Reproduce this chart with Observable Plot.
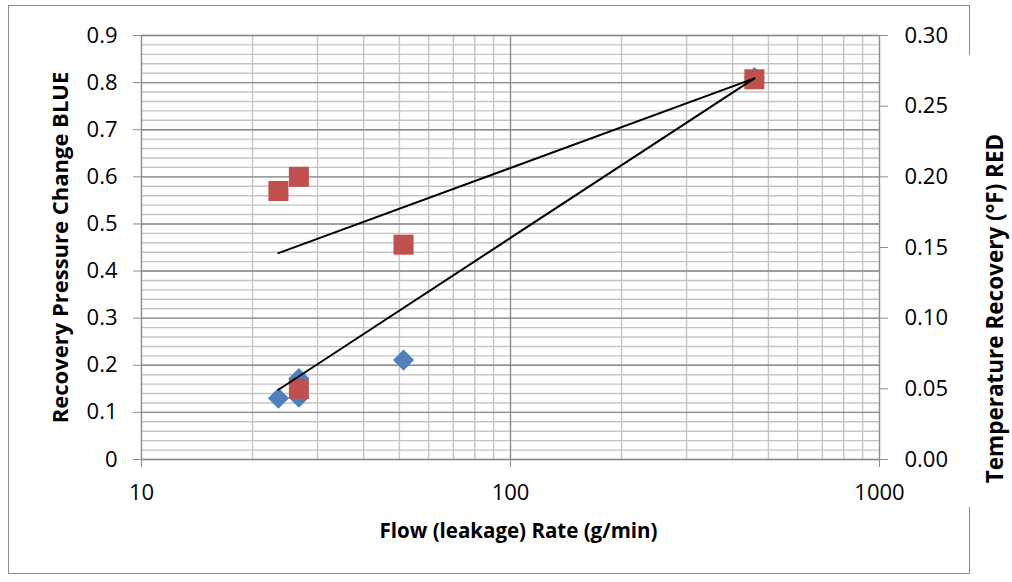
<!DOCTYPE html>
<html>
<head>
<meta charset="utf-8">
<script src="https://cdn.jsdelivr.net/npm/d3@7"></script>
<script src="https://cdn.jsdelivr.net/npm/@observablehq/plot@0.6"></script>
<style>
  html, body { margin: 0; padding: 0; background: #fff; }
  #wrap { position: relative; width: 1012px; height: 582px; overflow: hidden; }
  .bd { position: absolute; background: #8c8c8c; }
</style>
</head>
<body>
<div id="wrap"></div>
<script>
// ---- data ----
const flowRate = [23.5, 26.7, 26.7, 51.3, 458];          // g/min
const pressureBlue = [0.13, 0.172, 0.132, 0.211, 0.811];   // left axis
const tempFlow = [23.5, 26.7, 26.7, 51.3, 458];
const temperatureRed = [0.19, 0.20, 0.05, 0.152, 0.269];  // right axis (°F)

// trend lines (endpoints)
const trendFlow = [23.5, 458];
const blueTrend = [0.148, 0.809];   // left-axis units
const redTrend = [0.146, 0.2697];   // right-axis units

// axes
const xTicks = [10, 100, 1000];
const xMinor = [20, 30, 40, 50, 60, 70, 80, 90, 200, 300, 400, 500, 600, 700, 800, 900];
const leftTicks = [0, 0.1, 0.2, 0.3, 0.4, 0.5, 0.6, 0.7, 0.8, 0.9];
const leftMinor = d3.range(0, 91, 2).map(v => v / 100);
const rightTicks = [0, 0.05, 0.10, 0.15, 0.20, 0.25, 0.30];
const leftMax = 0.9, rightMax = 0.30;
const k = leftMax / rightMax;

const xTitle = "Flow (leakage) Rate (g/min)";
const leftTitle = "Recovery Pressure Change BLUE";
const rightTitle = "Temperature Recovery (°F) RED";

const blueData = flowRate.map((f, i) => ({f, v: pressureBlue[i]}));
const redData = tempFlow.map((f, i) => ({f, v: temperatureRed[i] * k}));
const blueLine = trendFlow.map((f, i) => ({f, v: blueTrend[i]}));
const redLine = trendFlow.map((f, i) => ({f, v: redTrend[i] * k}));

const BLUE = "#4F81BD", RED = "#C0504D";
const FONT = "'Open Sans', sans-serif";

const chart = Plot.plot({
  width: 1012,
  height: 582,
  marginLeft: 141,
  marginRight: 133,
  marginTop: 35,
  marginBottom: 123,
  style: {fontFamily: FONT, background: "transparent", overflow: "visible"},
  x: {type: "log", domain: [10, 1000]},
  y: {domain: [0, leftMax]},
  marks: [
    Plot.ruleY(leftMinor, {stroke: "#c4c4c4", strokeWidth: 1.4}),
    Plot.ruleX(xMinor, {stroke: "#c4c4c4", strokeWidth: 1.4}),
    Plot.ruleY(leftTicks, {stroke: "#8c8c8c", strokeWidth: 1.4}),
    Plot.ruleX(xTicks, {stroke: "#8c8c8c", strokeWidth: 1.4}),
    Plot.axisY(leftTicks, {anchor: "left", tickSize: 8, tickPadding: 16, fontSize: 22,
      stroke: "#8c8c8c", fill: "#000", tickFormat: d => d === 0 ? "0" : d.toFixed(1), label: null}),
    Plot.axisY(rightTicks.map(v => v * k), {anchor: "right", tickSize: 8, tickPadding: 17, fontSize: 22,
      stroke: "#8c8c8c", fill: "#000", tickFormat: d => (d / k).toFixed(2), label: null}),
    Plot.axisX(xTicks, {anchor: "bottom", tickSize: 8, tickPadding: 17, fontSize: 22,
      stroke: "#8c8c8c", fill: "#000", tickFormat: d => String(d), label: null}),
    Plot.dot(blueData, {x: "f", y: "v", symbol: "diamond2", r: 9.5, fill: BLUE, stroke: "none"}),
    Plot.dot(redData, {x: "f", y: "v", symbol: "square", r: 11.3, fill: RED, stroke: "none"}),
    Plot.line(redLine, {x: "f", y: "v", stroke: "#000", strokeWidth: 2}),
    Plot.line(blueLine, {x: "f", y: "v", stroke: "#000", strokeWidth: 2}),
    Plot.text([xTitle], {frameAnchor: "bottom", textAnchor: "middle", dx: 8, dy: 78, text: d => d,
      fontSize: 20.5, fontWeight: "bold", fill: "#000"}),
    Plot.text([leftTitle], {frameAnchor: "left", textAnchor: "middle", dx: -81, dy: 0, rotate: -90,
      text: d => d, fontSize: 22, fontWeight: "bold", fill: "#000"}),
    Plot.text([rightTitle], {frameAnchor: "right", textAnchor: "middle", dx: 116, dy: 61, rotate: -90,
      text: d => d, fontSize: 22.5, fontWeight: "bold", fill: "#000",
      stroke: "#fff", strokeWidth: 8, paintOrder: "stroke"})
  ]
});

const wrap = document.getElementById("wrap");
// outer chart border (drawn under the SVG so the right title can break it)
const borders = [
  {l: 8, t: 5, w: 961, h: 1},
  {l: 8, t: 5, w: 1, h: 568},
  {l: 8, t: 573, w: 962, h: 1},
  {l: 969, t: 5, w: 1, h: 50},
  {l: 969, t: 507, w: 1, h: 67}
];
for (const b of borders) {
  const d = document.createElement("div");
  d.className = "bd";
  d.style.left = b.l + "px"; d.style.top = b.t + "px";
  d.style.width = b.w + "px"; d.style.height = b.h + "px";
  wrap.appendChild(d);
}
chart.style.position = "absolute";
chart.style.left = "0px";
chart.style.top = "0px";
wrap.appendChild(chart);
</script>
</body>
</html>
